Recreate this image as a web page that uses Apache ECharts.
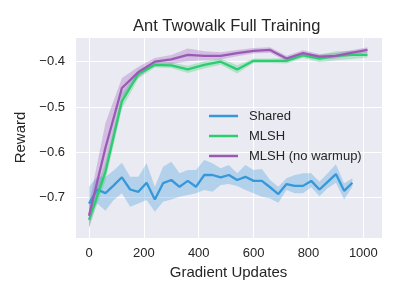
<!DOCTYPE html>
<html><head><meta charset="utf-8">
<script src="https://cdn.jsdelivr.net/npm/echarts@6/dist/echarts.min.js"></script>
<style>html,body{margin:0;padding:0;background:#fff}#c{width:400px;height:300px}</style>
</head><body><div id="c"></div>
<script>
// ---- data ----
const sharedX = [0,30,60,90,120,150,180,210,240,270,300,330,360,390,420,450,480,510,540,570,600,630,660,690,720,750,780,810,840,870,900,930,960];
const sharedMean = [-0.713,-0.682,-0.690,-0.673,-0.655,-0.682,-0.687,-0.667,-0.704,-0.668,-0.661,-0.676,-0.663,-0.676,-0.650,-0.650,-0.655,-0.650,-0.661,-0.654,-0.663,-0.663,-0.677,-0.692,-0.670,-0.674,-0.674,-0.663,-0.682,-0.665,-0.648,-0.685,-0.667];
const sharedUpper = [-0.676,-0.654,-0.654,-0.640,-0.623,-0.654,-0.654,-0.624,-0.676,-0.632,-0.621,-0.646,-0.639,-0.639,-0.617,-0.624,-0.635,-0.628,-0.646,-0.628,-0.639,-0.637,-0.661,-0.676,-0.657,-0.650,-0.646,-0.646,-0.665,-0.646,-0.626,-0.668,-0.657];
const sharedLower = [-0.740,-0.713,-0.729,-0.705,-0.690,-0.720,-0.713,-0.705,-0.731,-0.709,-0.704,-0.698,-0.694,-0.690,-0.683,-0.687,-0.672,-0.670,-0.674,-0.683,-0.690,-0.698,-0.702,-0.711,-0.683,-0.690,-0.690,-0.677,-0.697,-0.679,-0.667,-0.704,-0.676];

const mlshX = [0,60,120,180,240,300,360,420,480,540,600,660,720,780,840,900,960,1015];
const mlshMean = [-0.749,-0.643,-0.487,-0.427,-0.407,-0.408,-0.417,-0.407,-0.400,-0.417,-0.398,-0.398,-0.398,-0.386,-0.393,-0.387,-0.385,-0.385];
const mlshStd = [0.018,0.020,0.017,0.010,0.006,0.006,0.008,0.008,0.007,0.009,0.005,0.005,0.006,0.006,0.008,0.010,0.009,0.006];

const nowarmMean = [-0.740,-0.590,-0.458,-0.423,-0.400,-0.395,-0.385,-0.387,-0.387,-0.381,-0.376,-0.374,-0.393,-0.381,-0.389,-0.387,-0.380,-0.374];
const nowarmStd = [0.026,0.055,0.022,0.012,0.008,0.010,0.014,0.010,0.008,0.007,0.006,0.006,0.006,0.006,0.006,0.006,0.006,0.006];

const xTicks = [0,200,400,600,800,1000];
const yTicks = [-0.7,-0.6,-0.5,-0.4];

// ---- chart ----
const FONT = '"Liberation Sans", Arial, sans-serif';
const TXT = '#262626';
const C_SHARED = '#3498db', C_MLSH = '#2ecc71', C_NOWARM = '#9b59b6';

function pairs(xs, ys){ return xs.map((x,i)=>[x, ys[i]]); }
function band(xs, lower, upper, color){
  return {
    type:'custom', silent:true, animation:false,
    data:[[xs[0], lower[0]]],
    encode:{x:0, y:1},
    renderItem:function(params, api){
      const pts = [];
      for (let i = 0; i < xs.length; i++) pts.push(api.coord([xs[i], upper[i]]));
      for (let i = xs.length - 1; i >= 0; i--) pts.push(api.coord([xs[i], lower[i]]));
      return {type:'polygon', shape:{points:pts}, style:{fill:color, opacity:0.3}};
    }
  };
}
function mainLine(name, xs, ys, color){
  return {type:'line', name:name, data:pairs(xs, ys), symbol:'none', color:color,
    lineStyle:{width:2.3, color:color}, animation:false};
}

const series = [
  band(sharedX, sharedLower, sharedUpper, C_SHARED),
  mainLine('Shared', sharedX, sharedMean, C_SHARED),
  band(mlshX, mlshMean.map((m,i)=>m-mlshStd[i]), mlshMean.map((m,i)=>m+mlshStd[i]), C_MLSH),
  mainLine('MLSH', mlshX, mlshMean, C_MLSH),
  band(mlshX, nowarmMean.map((m,i)=>m-nowarmStd[i]), nowarmMean.map((m,i)=>m+nowarmStd[i]), C_NOWARM),
  mainLine('MLSH (no warmup)', mlshX, nowarmMean, C_NOWARM)
];

const isTick = (arr, v) => arr.some(t => Math.abs(t - v) < 1e-6);

const chart = echarts.init(document.getElementById('c'), null, {renderer:'canvas'});
chart.setOption({
  animation:false,
  backgroundColor:'#fff',
  title:{text:'Ant Twowalk Full Training', left:133, top:18, padding:0,
    textStyle:{fontFamily:FONT, fontSize:16.5, fontWeight:'normal', color:TXT}},
  grid:{left:75, right:18, top:37, bottom:62, show:true, backgroundColor:'#EAEAF2', borderWidth:0},
  legend:{data:['Shared','MLSH','MLSH (no warmup)'], orient:'vertical', left:209, top:109,
    icon:'rect', itemWidth:29, itemHeight:2.5, itemGap:6, padding:0,
    textStyle:{fontFamily:FONT, fontSize:13, lineHeight:14, color:TXT, padding:[0,0,0,6]}},
  xAxis:{type:'value', min:-51, max:1068,
    name:'Gradient Updates', nameLocation:'middle', nameGap:24,
    nameTextStyle:{fontFamily:FONT, fontSize:15, color:TXT},
    axisLine:{show:false}, axisTick:{show:false},
    axisLabel:{fontFamily:FONT, fontSize:13, color:TXT, margin:9,
      formatter:v => isTick(xTicks, v) ? String(Math.round(v)) : ''},
    splitLine:{show:true, lineStyle:{color:'#ffffff', width:1}}},
  yAxis:{type:'value', min:-0.789, max:-0.3455,
    name:'Reward', nameLocation:'middle', nameGap:39,
    nameTextStyle:{fontFamily:FONT, fontSize:15, color:TXT},
    axisLine:{show:false}, axisTick:{show:false},
    axisLabel:{fontFamily:FONT, fontSize:13, color:TXT, margin:10,
      formatter:v => isTick(yTicks, v) ? v.toFixed(1).replace('-', '\u2212') : ''},
    splitLine:{show:true, lineStyle:{color:'#ffffff', width:1}}},
  series:series
});
</script>
</body></html>
